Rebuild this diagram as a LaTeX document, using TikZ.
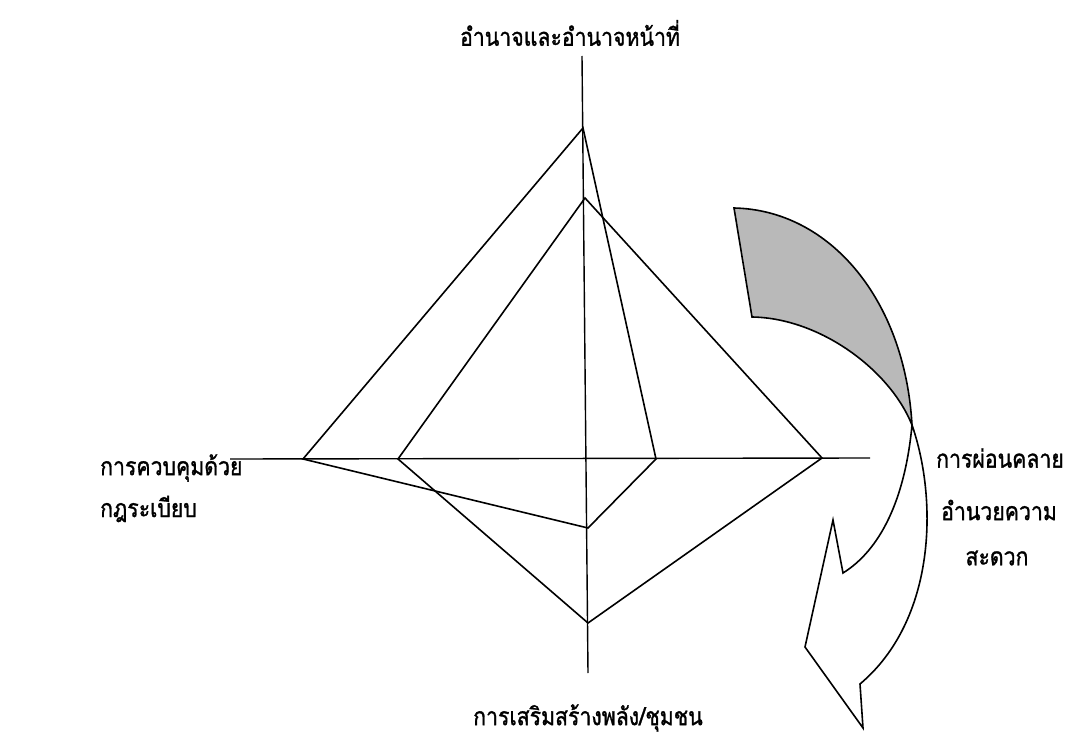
\documentclass[tikz,border=0pt]{standalone}
\usepackage{fontspec}
\newfontfamily\thaifont[Script=Thai,FakeStretch=0.85,FakeBold=1.2]{Loma}
\begin{document}
\begin{tikzpicture}[x=1pt,y=-1pt,
  axis/.style={line width=1.4pt},
  kite/.style={line width=1.6pt, line join=miter},
  band/.style={line width=1.6pt, line join=miter},
  lbl/.style={font=\thaifont\fontsize{25}{28}\selectfont, inner sep=0pt}]
\useasboundingbox (0,0) rectangle (1077,738);
% axes
\coordinate (vt) at (582,56);
\coordinate (vb) at (588,673);
\coordinate (hl) at (230,459);
\coordinate (hr) at (870,458);
\draw[axis] (vt) -- (vb);
\draw[axis] (hl) -- (hr);
% outer kite
\coordinate (T1) at (583,128);
\coordinate (L1) at (303,459);
\coordinate (B1) at (588,528);
\coordinate (R1) at (656,459);
\draw[kite] (T1) -- (L1) -- (B1) -- (R1) -- cycle;
% inner kite
\coordinate (T2) at (585,198);
\coordinate (L2) at (398,459);
\coordinate (B2) at (588,623);
\coordinate (R2) at (822,458);
\draw[kite] (T2) -- (L2) -- (B2) -- (R2) -- cycle;
% curved arrow: shaded tail
\coordinate (s1) at (734,208);
\coordinate (s2) at (752,317);
\coordinate (sj) at (912,425);
\draw[band, fill=gray!55] (s1) -- (s2) .. controls (820,318) and (890,370) .. (sj)
  .. controls (905,300) and (830,210) .. (s1) -- cycle;
% white arrow body and head
\coordinate (a1) at (860,684);
\coordinate (tip) at (863,728);
\coordinate (a2) at (805,647);
\coordinate (a3) at (833,520);
\coordinate (a4) at (843,573);
\draw[band, fill=white] (sj) .. controls (938,500) and (936,620) .. (a1)
  -- (tip) -- (a2) -- (a3) -- (a4) .. controls (880,550) and (905,500) .. (sj) -- cycle;
% labels
\node[lbl] (top) at (570,33) {อำนาจและอำนาจหน้าที่};
\node[lbl] (bot) at (588,718) {การเสริมสร้างพลัง/ชุมชน};
\node[lbl, anchor=west] (left1) at (100,468) {การควบคุมด้วย};
\node[lbl, anchor=west] (left2) at (100,509) {กฎระเบียบ};
\node[lbl] (right1) at (1000,458) {การผ่อนคลาย};
\node[lbl] (right2) at (999,510) {อำนวยความ};
\node[lbl] (right3) at (997,558) {สะดวก};
\end{tikzpicture}
\end{document}
